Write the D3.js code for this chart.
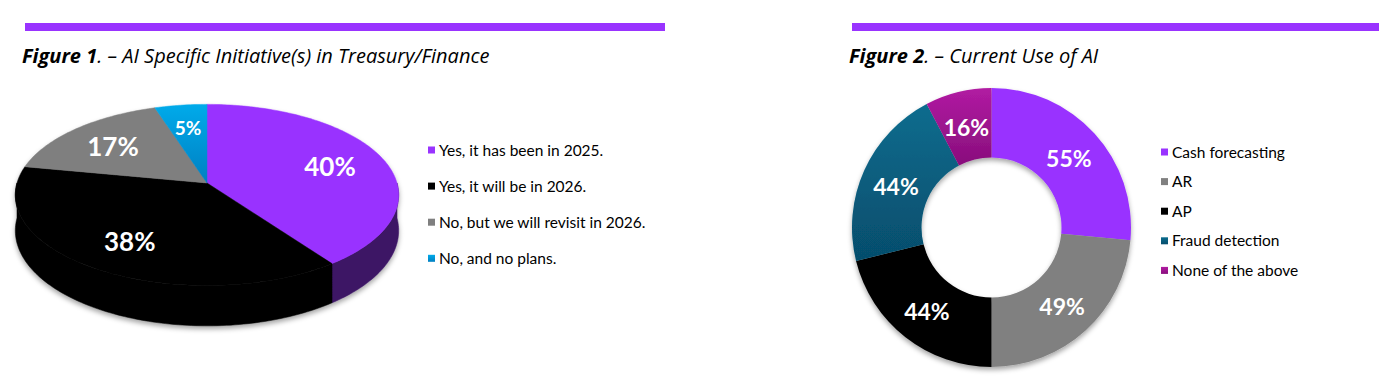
<!DOCTYPE html>
<html lang="en">
  <head>
    <title>AI in Treasury</title>
    <script src="https://d3js.org/d3.v7.min.js"></script>
    <style>
      body {
        margin: 0;
        background: #fff;
      }
      .fig-title {
        font-family: "Open Sans", sans-serif;
        font-style: italic;
        font-size: 20px;
        fill: #000;
      }
      .fig-title .num {
        font-weight: bold;
      }
      .slice-label {
        font-family: "Lato", sans-serif;
        font-weight: bold;
        fill: #fff;
      }
      .legend-text {
        font-family: "Lato", sans-serif;
        font-size: 15.5px;
        fill: #000;
      }
    </style>
  </head>
  <body>
    <svg id="chart" width="1399" height="383"></svg>
    <script>
      // Figure 1 data
      const fig1Labels = [
        "Yes, it has been in 2025.",
        "Yes, it will be in 2026.",
        "No, but we will revisit in 2026.",
        "No, and no plans.",
      ];
      const fig1Values = [40, 38, 17, 5];

      // Figure 2 data
      const fig2Labels = [
        "Cash forecasting",
        "AR",
        "AP",
        "Fraud detection",
        "None of the above",
      ];
      const fig2Values = [55, 49, 44, 44, 16];

      const svg = d3.select("svg#chart");
      const defs = svg.append("defs");

      const shadow = defs.append("filter").attr("id", "shadow")
        .attr("x", "-10%").attr("y", "-10%").attr("width", "120%").attr("height", "125%");
      shadow.append("feDropShadow")
        .attr("dx", 0).attr("dy", 3).attr("stdDeviation", 2.5)
        .attr("flood-color", "#000").attr("flood-opacity", 0.35);

      function addGradient(id, top, bottom) {
        const g = defs.append("linearGradient").attr("id", id)
          .attr("x1", 0).attr("y1", 0).attr("x2", 0).attr("y2", 1);
        g.append("stop").attr("offset", "0%").attr("stop-color", top);
        g.append("stop").attr("offset", "100%").attr("stop-color", bottom);
      }
      addGradient("gBlue", "#00aaea", "#0080c2");
      addGradient("gTeal", "#0a6c8e", "#064d6c");
      addGradient("gMagenta", "#b11ba2", "#880e7c");

      // title bars + titles
      function drawHeader(x0, x1, num, rest) {
        svg.append("rect")
          .attr("x", x0).attr("y", 23)
          .attr("width", x1 - x0).attr("height", 8)
          .attr("fill", "#9933ff");
        const t = svg.append("text").attr("class", "fig-title")
          .attr("x", x0 - 3).attr("y", 63);
        t.append("tspan").attr("class", "num").text("Figure " + num);
        t.append("tspan").text(". – " + rest);
      }
      drawHeader(25, 665, 1, "AI Specific Initiative(s) in Treasury/Finance");
      drawHeader(852, 1379, 2, "Current Use of AI");

      // ---------- Figure 1: 3D pie (simple perspective) ----------
      const p1 = { cx: 207, cy: 183, rx: 190, ry: 89, depth: 35, k: 0.132 };
      const color1 = d3.scaleOrdinal()
        .domain(fig1Labels)
        .range(["#9933ff", "#000000", "#7f7f7f", "url(#gBlue)"]);
      const side1 = d3.scaleOrdinal()
        .domain(fig1Labels)
        .range(["#3c1665", "#000000", "#4a4a4a", "#005c8a"]);

      const pie1 = d3.pie().sort(null).value((d, i) => fig1Values[i]);
      const arcs1 = pie1(fig1Labels);

      // angle a clockwise from 12 o'clock, r = fraction of radius, drop = depth below top
      function project(a, r = 1, drop = 0) {
        const u = r * Math.sin(a);
        const v = -r * Math.cos(a);
        const f = 1 / (1 - p1.k * v);
        return [p1.cx + p1.rx * u * f, p1.cy + p1.ry * v * f + drop * f];
      }
      const sample = (a0, a1) => {
        const n = Math.max(2, Math.ceil((a1 - a0) / 0.02));
        return d3.range(n + 1).map((i) => a0 + ((a1 - a0) * i) / n);
      };
      const line = d3.line();

      function topPath(d) {
        const pts = [[p1.cx, p1.cy]].concat(
          sample(d.startAngle, d.endAngle).map((a) => project(a))
        );
        return line(pts) + "Z";
      }
      function sidePath(d) {
        const a0 = Math.max(d.startAngle, Math.PI / 2);
        const a1 = Math.min(d.endAngle, Math.PI * 1.5);
        if (a1 <= a0) return null;
        const angles = sample(a0, a1);
        const upper = angles.map((a) => project(a));
        const lower = angles.slice().reverse().map((a) => project(a, 1, p1.depth));
        return line(upper.concat(lower)) + "Z";
      }

      const g1 = svg.append("g").attr("filter", "url(#shadow)");
      g1.selectAll("path.side")
        .data(arcs1.filter((d) => sidePath(d)))
        .join("path")
        .attr("class", "side")
        .attr("d", sidePath)
        .attr("fill", (d) => side1(d.data))
        .attr("stroke", (d) => side1(d.data))
        .attr("stroke-width", 0.5);
      g1.selectAll("path.top")
        .data(arcs1)
        .join("path")
        .attr("class", "top")
        .attr("d", topPath)
        .attr("fill", (d) => color1(d.data))
        .attr("stroke", (d) => color1(d.data))
        .attr("stroke-width", 0.5);

      svg.selectAll("text.l1")
        .data(arcs1)
        .join("text")
        .attr("class", "slice-label l1")
        .attr("text-anchor", "middle")
        .attr("dy", "0.36em")
        .attr("font-size", (d) => (d.value < 10 ? "19px" : "26px"))
        .attr("transform", (d) => {
          const c = project((d.startAngle + d.endAngle) / 2, 0.7);
          return `translate(${c[0]},${c[1] + 2})`;
        })
        .text((d) => d.value + "%");

      const leg1 = svg.append("g").attr("transform", "translate(428,150)");
      fig1Labels.forEach((label, i) => {
        const y = i * 36.1;
        leg1.append("rect")
          .attr("x", 0).attr("y", y - 3.5)
          .attr("width", 7).attr("height", 7)
          .attr("fill", color1(label));
        leg1.append("text")
          .attr("class", "legend-text")
          .attr("x", 11).attr("y", y)
          .attr("dy", "0.36em")
          .text(label);
      });

      // ---------- Figure 2: doughnut ----------
      const p2 = { cx: 991.5, cy: 227.5, outer: 139.5, inner: 70 };
      const color2 = d3.scaleOrdinal()
        .domain(fig2Labels)
        .range(["#9933ff", "#808080", "#000000", "url(#gTeal)", "url(#gMagenta)"]);

      const pie2 = d3.pie().sort(null).value((d, i) => fig2Values[i]);
      const arcs2 = pie2(fig2Labels);
      const arc2 = d3.arc().innerRadius(p2.inner).outerRadius(p2.outer);

      const g2 = svg.append("g")
        .attr("transform", `translate(${p2.cx},${p2.cy})`);
      g2.append("g").attr("filter", "url(#shadow)")
        .selectAll("path")
        .data(arcs2)
        .join("path")
        .attr("d", arc2)
        .attr("fill", (d) => color2(d.data));

      g2.selectAll("text")
        .data(arcs2)
        .join("text")
        .attr("class", "slice-label")
        .attr("font-size", "23px")
        .attr("text-anchor", "middle")
        .attr("dy", "0.36em")
        .attr("transform", (d) => {
          const c = arc2.centroid(d);
          return `translate(${c[0]},${c[1] + 2})`;
        })
        .text((d) => d.value + "%");

      const leg2 = svg.append("g").attr("transform", "translate(1161,152)");
      fig2Labels.forEach((label, i) => {
        const y = i * 29.6;
        leg2.append("rect")
          .attr("x", 0).attr("y", y - 3.5)
          .attr("width", 7).attr("height", 7)
          .attr("fill", color2(label));
        leg2.append("text")
          .attr("class", "legend-text")
          .attr("x", 11).attr("y", y)
          .attr("dy", "0.36em")
          .text(label);
      });
    </script>
  </body>
</html>
